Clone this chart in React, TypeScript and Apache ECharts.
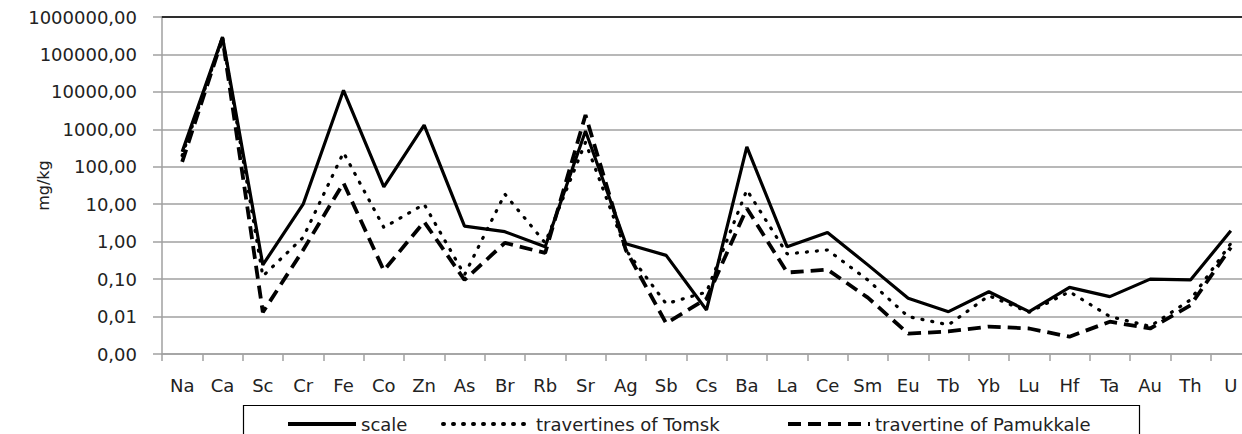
import React, { useEffect, useRef } from "react";
import * as echarts from "echarts";

const categories = ["Na", "Ca", "Sc", "Cr", "Fe", "Co", "Zn", "As", "Br", "Rb", "Sr", "Ag", "Sb", "Cs", "Ba", "La", "Ce", "Sm", "Eu", "Tb", "Yb", "Lu", "Hf", "Ta", "Au", "Th", "U"];

const scaleValues = [250, 290000, 0.24, 10, 11000, 29, 1300, 2.6, 1.85, 0.73, 900, 0.88, 0.43, 0.015, 340, 0.73, 1.75, 0.24, 0.031, 0.0135, 0.046, 0.0135, 0.06, 0.034, 0.1, 0.095, 1.95];
const tomskValues = [200, 280000, 0.12, 1.3, 240, 2.4, 10, 0.13, 18.7, 0.93, 450, 0.6, 0.022, 0.045, 24, 0.47, 0.6, 0.095, 0.01, 0.006, 0.036, 0.013, 0.046, 0.01, 0.0055, 0.028, 0.9];
const pamukkaleValues = [135, 270000, 0.013, 0.6, 37, 0.17, 3.4, 0.095, 0.93, 0.5, 2400, 0.6, 0.0066, 0.03, 7.8, 0.15, 0.18, 0.032, 0.0035, 0.004, 0.0054, 0.0048, 0.0029, 0.0073, 0.0048, 0.02, 0.7];

const seriesNames = ["scale", "travertines of Tomsk", "travertine of Pamukkale"];
const yAxisName = "mg/kg";

const FONT = "DejaVu Sans";
const TEXT = "#222";
const GRID_GRAY = "#a0a0a0";

export default function App() {
  const ref = useRef<HTMLDivElement>(null);

  useEffect(() => {
    if (!ref.current) return;
    const chart = echarts.init(ref.current, null, { renderer: "svg" });
    const legendText = { fontFamily: FONT, fontSize: 18, color: TEXT };
    const legendCommon = {
      top: 415,
      itemHeight: 14,
      itemGap: 5,
      padding: 0,
      textStyle: legendText,
      itemStyle: { opacity: 0 },
      lineStyle: { width: 4 },
    };
    chart.setOption({
      animation: false,
      backgroundColor: "#fff",
      grid: { left: 162, top: 17, right: -9, bottom: 80, containLabel: false, outerBoundsMode: "none" },
      xAxis: [
        {
          type: "category",
          data: categories,
          boundaryGap: true,
          axisLine: { show: true, lineStyle: { color: GRID_GRAY, width: 1.5 } },
          axisTick: { show: true, alignWithLabel: false, length: 7, lineStyle: { color: GRID_GRAY, width: 1.5 } },
          axisLabel: { interval: 0, margin: 22, fontFamily: FONT, fontSize: 18, color: TEXT },
          splitLine: { show: false },
        },
        {
          type: "category",
          data: categories,
          position: "top",
          axisLine: { show: true, lineStyle: { color: "#000", width: 1.5 } },
          axisTick: { show: false },
          axisLabel: { show: false },
          splitLine: { show: false },
        },
      ],
      yAxis: {
        type: "log",
        logBase: 10,
        min: 0.001,
        max: 1000000,
        name: yAxisName,
        nameLocation: "middle",
        nameGap: 111,
        nameMoveOverlap: false,
        nameTextStyle: { fontFamily: FONT, fontSize: 16, color: TEXT },
        axisLine: { show: true, lineStyle: { color: GRID_GRAY, width: 1.5 } },
        axisTick: { show: true, inside: false, length: 9, lineStyle: { color: GRID_GRAY, width: 1.5 } },
        axisLabel: {
          margin: 25,
          fontFamily: FONT,
          fontSize: 18,
          color: TEXT,
          formatter: (v: number) => v.toFixed(2).replace(".", ","),
        },
        splitLine: { show: true, lineStyle: { color: GRID_GRAY, width: 1.5 } },
      },
      legend: [
        { ...legendCommon, data: [seriesNames[0]], left: 286, itemWidth: 68 },
        { ...legendCommon, data: [seriesNames[1]], left: 441, itemWidth: 88 },
        { ...legendCommon, data: [seriesNames[2]], left: 786, itemWidth: 82 },
      ],
      graphic: [
        {
          type: "rect",
          shape: { x: 243.5, y: 405.5, width: 896, height: 60 },
          style: { fill: "none", stroke: "#000", lineWidth: 1.2 },
          silent: true,
          z: 0,
        },
      ],
      series: [
        {
          name: seriesNames[0],
          type: "line",
          data: scaleValues,
          symbol: "none",
          lineStyle: { color: "#000", width: 3.2, type: "solid" },
          itemStyle: { color: "#000" },
          z: 3,
        },
        {
          name: seriesNames[1],
          type: "line",
          data: tomskValues,
          symbol: "none",
          lineStyle: { color: "#000", width: 3.2, type: [1, 9], cap: "round" },
          itemStyle: { color: "#000" },
          z: 2,
        },
        {
          name: seriesNames[2],
          type: "line",
          data: pamukkaleValues,
          symbol: "none",
          lineStyle: { color: "#000", width: 3.8, type: [13, 7], cap: "butt" },
          itemStyle: { color: "#000" },
          z: 2,
        },
      ],
    });
    return () => chart.dispose();
  }, []);

  return (
    <div
      ref={ref}
      style={{ position: "absolute", left: 0, top: 0, width: 1242, height: 434, background: "#fff" }}
    />
  );
}
